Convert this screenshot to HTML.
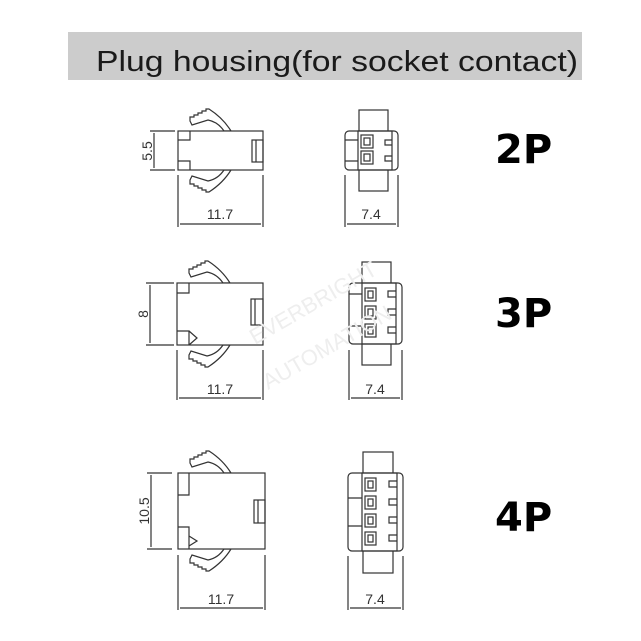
<!DOCTYPE html>
<html><head><style>html,body{margin:0;padding:0;background:#fff}svg{display:block}</style></head>
<body>
<svg width="641" height="641" viewBox="0 0 641 641" xmlns="http://www.w3.org/2000/svg" font-family="Liberation Sans, sans-serif">
<defs>
<path id="latch" d="M12,-10 L12,-14 L16,-14 L16,-16 L20,-16 L20,-18 L24,-18 L24,-20 L28,-20 L28,-22 L31,-22 Q45,-13 53,0 L46,0 Q40,-9 30,-11 L14,-6 Z" fill="#fff" stroke="#333" stroke-width="1.2"/>
</defs>
<rect x="68" y="32" width="514" height="48" fill="#cccccc"/>
<text x="96" y="71" font-size="29" fill="#1a1a1a" textLength="482" lengthAdjust="spacingAndGlyphs">Plug housing(for socket contact)</text>

<g fill="none" stroke="#333" stroke-width="1.2">
<!-- 2P side -->
<use href="#latch" transform="translate(178,131)"/>
<use href="#latch" transform="translate(178,170) scale(1,-1)"/>
<rect x="178" y="131" width="85" height="39" fill="#fff"/>
<path d="M178,140 H190 V131 M178,161 H190 V170"/>
<rect x="252" y="140" width="11" height="22"/><line x1="256" y1="140" x2="256" y2="162"/>
<path d="M150,131 H175 M150,170 H175 M154,133 V168 M178,175 V227 M263,175 V227 M180,224 H261"/>
<!-- 2P front -->
<rect x="359" y="110" width="29" height="81"/>
<rect x="345" y="131" width="53" height="39" rx="4" fill="#fff"/>
<rect x="358" y="131" width="34" height="39"/>
<rect x="361" y="135" width="12" height="13"/><rect x="364" y="138" width="6" height="7"/>
<rect x="361" y="151" width="12" height="13"/><rect x="364" y="154" width="6" height="7"/>
<path d="M392,140 H385 V145 H392 M392,156 H385 V161 H392 M345,140 H358 M345,161 H358"/>
<path d="M345,175 V227 M398,175 V227 M347,224 H396"/>

<!-- 3P side -->
<use href="#latch" transform="translate(177,283)"/>
<use href="#latch" transform="translate(177,345) scale(1,-1)"/>
<rect x="177" y="283" width="86" height="62" fill="#fff"/>
<path d="M177,293 H189 V283 M177,331 H189 V345 M189,331 L197,338 L189,345"/>
<rect x="251" y="299" width="12" height="26"/><line x1="255" y1="299" x2="255" y2="325"/>
<path d="M146,283 H174 M146,345 H174 M150,285 V343 M177,350 V400 M263,350 V400 M179,398 H261"/>
<!-- 3P front -->
<rect x="362" y="262" width="29" height="103"/>
<rect x="349" y="283" width="53" height="61" rx="4" fill="#fff"/>
<rect x="362" y="283" width="34" height="61"/>
<rect x="365" y="288" width="11" height="13"/><rect x="368" y="291" width="5" height="7"/>
<rect x="365" y="306" width="11" height="13"/><rect x="368" y="309" width="5" height="7"/>
<rect x="365" y="324" width="11" height="13"/><rect x="368" y="327" width="5" height="7"/>
<path d="M396,291 H388 V297 H396 M396,309 H388 V315 H396 M396,327 H388 V333 H396 M349,294 H362 M349,326 H362"/>
<path d="M349,350 V400 M402,350 V400 M351,398 H400"/>

<!-- 4P side -->
<use href="#latch" transform="translate(178,473)"/>
<use href="#latch" transform="translate(178,549) scale(1,-1)"/>
<rect x="178" y="473" width="87" height="76" fill="#fff"/>
<path d="M178,495 H189 V473 M178,527 H189 V549 M189,536 L197,541 L189,546"/>
<rect x="254" y="500" width="11" height="23"/><line x1="258" y1="500" x2="258" y2="523"/>
<path d="M147,473 H172 M147,549 H172 M151,475 V547 M178,555 V610 M265,555 V610 M180,608 H263"/>
<!-- 4P front -->
<rect x="363" y="452" width="30" height="121"/>
<rect x="348" y="473" width="55" height="78" rx="4" fill="#fff"/>
<rect x="362" y="473" width="35" height="78"/>
<rect x="365" y="478" width="11" height="13"/><rect x="368" y="481" width="5" height="7"/>
<rect x="365" y="496" width="11" height="13"/><rect x="368" y="499" width="5" height="7"/>
<rect x="365" y="514" width="11" height="13"/><rect x="368" y="517" width="5" height="7"/>
<rect x="365" y="532" width="11" height="13"/><rect x="368" y="535" width="5" height="7"/>
<path d="M397,481 H389 V487 H397 M397,499 H389 V505 H397 M397,517 H389 V523 H397 M397,535 H389 V541 H397 M348,498 H362 M348,526 H362"/>
<path d="M348,556 V610 M403,556 V610 M350,608 H401"/>
</g>

<g font-size="14" fill="#333">
<text x="220" y="219" text-anchor="middle">11.7</text><text x="371" y="219" text-anchor="middle">7.4</text>
<text x="220" y="394" text-anchor="middle">11.7</text><text x="375" y="394" text-anchor="middle">7.4</text>
<text x="221" y="604" text-anchor="middle">11.7</text><text x="375" y="604" text-anchor="middle">7.4</text>
<text transform="translate(152,151) rotate(-90)" text-anchor="middle">5.5</text>
<text transform="translate(148,314) rotate(-90)" text-anchor="middle">8</text>
<text transform="translate(149,511) rotate(-90)" text-anchor="middle">10.5</text>
</g>
<g font-family="DejaVu Sans, sans-serif" font-weight="bold" font-size="40" fill="#000">
<text x="495" y="163">2P</text>
<text x="495" y="327">3P</text>
<text x="495" y="531">4P</text>
</g>
<g font-size="22" fill="#eeeeee">
<text transform="translate(255,345) rotate(-30)">EVERBRIGHT</text>
<text transform="translate(268,390) rotate(-30)">AUTOMATION</text>
</g>
</svg>
</body></html>
